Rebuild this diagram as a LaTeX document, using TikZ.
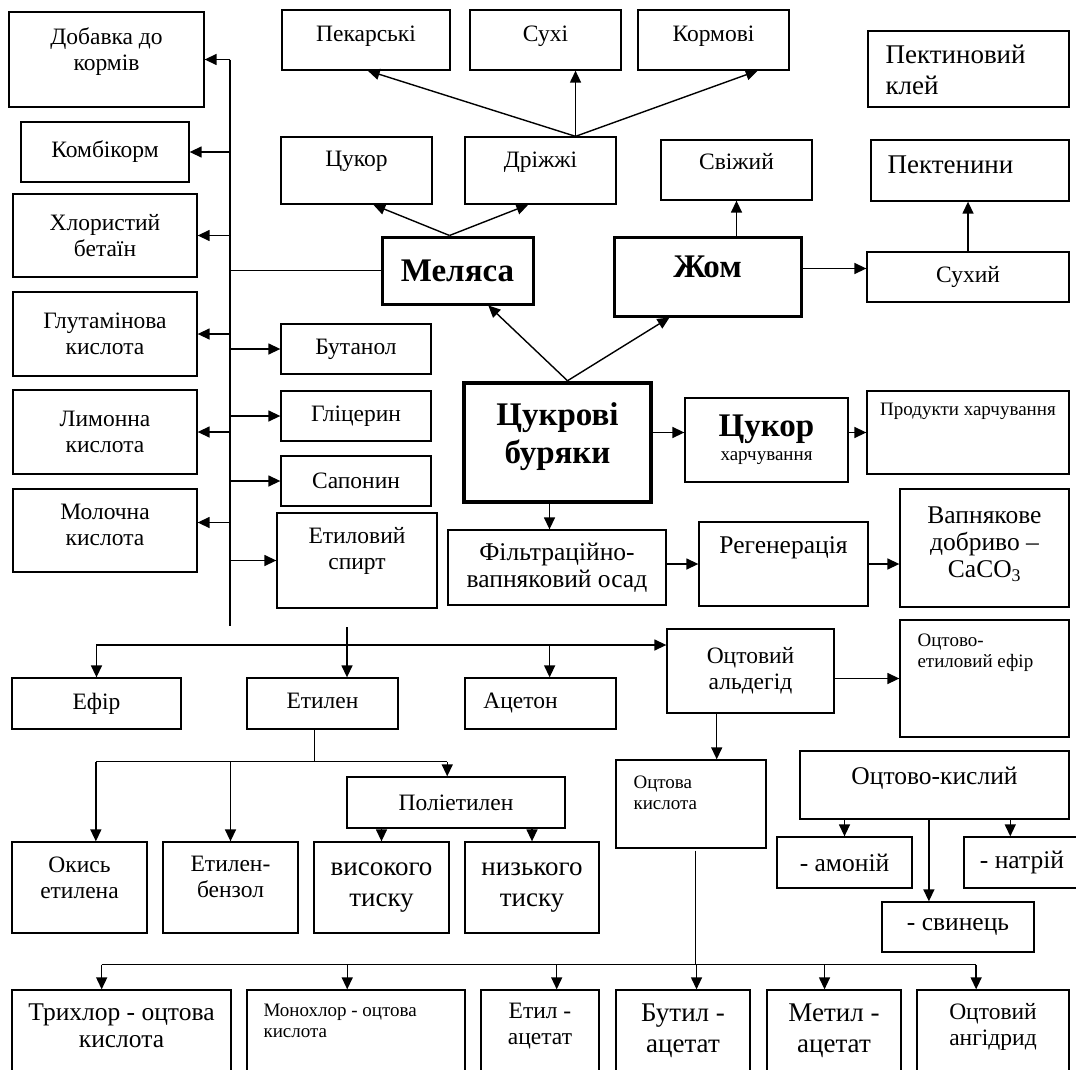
\documentclass[tikz,border=0pt]{standalone}
\usepackage{fontspec}
\setmainfont{Liberation Serif}
\usetikzlibrary{positioning, calc, arrows.meta}
\newcommand{\szN}{\fontsize{23.5}{26}\selectfont}
\newcommand{\szS}{\fontsize{19}{21}\selectfont}
\newcommand{\szM}{\fontsize{25.5}{27}\selectfont}
\newcommand{\szL}{\fontsize{27}{31}\selectfont}
\newcommand{\szB}{\fontsize{33}{38}\selectfont\bfseries}
\newcommand{\lift}[1]{\rule[-#1]{0pt}{1pt}}

\begin{document}
\begin{tikzpicture}[
		x=1pt, y=-1pt,
		cell/.style n args={4}{at={({(#1+#3)/2},{(#2+#4)/2})}, minimum width={(#3-#1)*1pt}, minimum height={(#4-#2)*1pt}},
		box/.style={draw, line width=1.3pt, inner sep=0pt, align=center, font=\szN},
		main/.style={box, line width=3pt, font=\szB},
		toptext/.style={anchor=north, align=center, inner sep=0pt, font=\szN},
		lefttext/.style={anchor=north west, align=left, inner sep=0pt, font=\szS},
		arrow/.style={-{Triangle[length=12pt, width=11pt]}, line width=1.4pt},
		link/.style={line width=1.2pt}
		]
		\useasboundingbox (0,0) rectangle (1076,1070);
		% Left column
		\node[box, cell={9}{12}{204}{107}, label={[toptext, yshift=-16pt]north:{Добавка до\\кормів}}] (dob) {};
		\node[box, cell={21}{122}{189}{182}] (komb) {Комбікорм};
		\node[box, cell={13}{194}{197}{277}] (khlor) {Хлористий\\бетаїн};
		\node[box, cell={13}{292}{197}{376}] (glut) {Глутамінова\\кислота};
		\node[box, cell={13}{390}{197}{474}] (lymon) {Лимонна\\кислота};
		\node[box, cell={13}{489}{197}{572}] (moloch) {Молочна\\кислота\lift{12pt}};
		\node[box, cell={281}{324}{431}{374}] (butanol) {Бутанол};
		\node[box, cell={281}{391}{431}{441}] (glits) {Гліцерин};
		\node[box, cell={281}{456}{431}{506}] (sapon) {Сапонин};
		\node[box, cell={277}{513}{437}{608}, label={[toptext, yshift=-15pt]north:{Етиловий\\спирт}}] (spirt) {};
		% Top row
		\node[box, cell={282}{10}{450}{70}, label={[toptext, yshift=-16pt]north:Пекарські}] (pekar) {};
		\node[box, cell={470}{10}{621}{70}, label={[toptext, yshift=-16pt]north:Сухі}] (sukhi) {};
		\node[box, cell={638}{10}{789}{70}, label={[toptext, yshift=-16pt]north:Кормові}] (korm) {};
		\node[box, cell={281}{137}{432}{204}, label={[toptext, yshift=-15pt]north:Цукор}] (tsukor) {};
		\node[box, cell={465}{137}{616}{204}, label={[toptext, yshift=-15pt]north:Дріжжі}] (drizh) {};
		\node[box, cell={868}{31}{1069}{107}, label={[lefttext, font=\szL, xshift=18pt, yshift=-14pt]north west:{Пектиновий\\клей}}] (pklei) {};
		\node[box, cell={661}{140}{812}{200}, label={[toptext, yshift=-14pt]north:Свіжий}] (svizh) {};
		\node[box, cell={871}{140}{1069}{201}, label={[lefttext, font=\szL, xshift=17pt, yshift=-16pt]north west:Пектенини}] (pekten) {};
		\node[main, cell={382}{237}{533}{304}] (melyasa) {Меляса};
		\node[main, cell={614}{237}{801}{316}, label={[toptext, font=\szB, yshift=-20pt]north:Жом}] (zhom) {};
		\node[box, cell={867}{252}{1069}{302}] (sukhyi) {Сухий};
		% Centre
		\node[main, line width=4.5pt, cell={464}{383}{651}{502}] (tsbur) {Цукрові\\буряки\lift{19pt}};
		\node[box, cell={685}{398}{848}{482}] (tsukhar) {{\szB Цукор}\\[-2pt]{\szS харчування}};
		\node[box, cell={867}{391}{1069}{474}, label={[toptext, font=\szS, yshift=-13pt]north:Продукти харчування}] (produkt) {};
		\node[box, font=\szM, cell={448}{530}{666}{605}] (filtr) {Фільтраційно-\\вапняковий осад};
		\node[box, cell={699}{522}{868}{606}, label={[toptext, font=\szM, yshift=-15pt]north:Регенерація}] (regen) {};
		\node[box, font=\szM, cell={900}{489}{1069}{607}] (vapn) {Вапнякове\\добриво –\\CaCO\textsubscript{3}\lift{12pt}};
		\node[box, cell={900}{620}{1069}{737}, label={[lefttext, xshift=18pt, yshift=-14pt]north west:{Оцтово-\\етиловий ефір}}] (otsefir) {};
		% Ethanol products
		\node[box, cell={12}{678}{181}{729}] (efir) {Ефір};
		\node[box, cell={247}{678}{398}{729}] (etylen) {Етилен\vphantom{р}};
		\node[box, cell={465}{678}{616}{729}] (aceton) {Ацетон\hspace*{40pt}};
		\node[box, cell={667}{629}{834}{713}] (otsald) {Оцтовий\\альдегід};
		\node[box, cell={616}{760}{766}{848}, label={[lefttext, xshift=18pt, yshift=-16pt]north west:{Оцтова\\кислота}}] (otskysl) {};
		\node[box, cell={12}{842}{147}{933}, label={[toptext, yshift=-15pt]north:{Окись\\етилена}}] (okys) {};
		\node[box, cell={163}{842}{298}{933}, label={[toptext, yshift=-15pt]north:{Етилен-\\бензол}}] (etbenz) {};
		\node[box, cell={347}{777}{565}{828}] (poliet) {Поліетилен};
		\node[box, font=\szL, cell={314}{842}{449}{933}] (vysok) {високого\\тиску};
		\node[box, font=\szL, cell={465}{842}{599}{933}] (nyzk) {низького\\тиску};
		\node[box, cell={800}{751}{1069}{819}, label={[toptext, font=\szM, yshift=-16pt]north:Оцтово-кислий}] (okysl) {};
		\node[box, font=\szM, cell={777}{837}{912}{888}] (amon) {- амоній};
		\node[box, font=\szM, cell={964}{837}{1080}{888}] (natr) {- натрій};
		\node[box, font=\szM, cell={882}{902}{1034}{952}] (svyn) {- свинець};
		% Bottom row
		\node[box, cell={12}{990}{231}{1080}, label={[toptext, font=\szM, yshift=-14pt]north:{Трихлор - оцтова\\кислота}}] (trykh) {};
		\node[box, cell={247}{990}{465}{1080}, label={[lefttext, xshift=17pt, yshift=-14pt]north west:{Монохлор - оцтова\\кислота}}] (monokh) {};
		\node[box, cell={481}{990}{599}{1080}, label={[toptext, yshift=-14pt]north:{Етил -\\ацетат}}] (etyl) {};
		\node[box, cell={616}{990}{750}{1080}, label={[toptext, font=\szL, yshift=-14pt]north:{Бутил -\\ацетат}}] (butyl) {};
		\node[box, cell={767}{990}{901}{1080}, label={[toptext, font=\szL, yshift=-14pt]north:{Метил -\\ацетат}}] (metyl) {};
		\node[box, cell={917}{990}{1069}{1080}, label={[toptext, yshift=-14pt]north:{Оцтовий\\ангідрид}}] (otsang) {};

		% Molasses trunk
		\coordinate (trT) at (230,60);
		\coordinate (trB) at (230,626);
		\draw[link] (trT) -- (trB);
		\draw[link, line width=0.8pt] (melyasa.west) -- (melyasa.west -| trB);
		\foreach \n in {dob, komb, khlor, glut, lymon}
			\draw[arrow] (trB |- \n.east) -- (\n.east);
		\coordinate (molA) at ([yshift=8pt]moloch.east);
		\draw[arrow] (trB |- molA) -- (molA);
		\foreach \n in {butanol, glits, sapon, spirt}
			\draw[arrow] (trB |- \n.west) -- (\n.west);

		% Molasses, yeast, pulp
		\draw[arrow] ([xshift=-8pt]melyasa.north) -- ($(tsukor.south west)!0.61!(tsukor.south east)$);
		\draw[arrow] ([xshift=-8pt]melyasa.north) -- ($(drizh.south west)!0.42!(drizh.south east)$);
		\coordinate (fan) at ($(drizh.north west)!0.73!(drizh.north east)$);
		\draw[arrow] (fan) -- ($(pekar.south west)!0.51!(pekar.south east)$);
		\draw[arrow] (fan) -- (fan |- sukhi.south);
		\draw[arrow] (fan) -- ($(korm.south west)!0.79!(korm.south east)$);
		\draw[arrow] (svizh.south |- zhom.north) -- (svizh.south);
		\coordinate (zhA) at ([yshift=8pt]zhom.east);
		\draw[arrow] (zhA) -- (zhA -| sukhyi.west);
		\draw[arrow] (sukhyi.north) -- (sukhyi.north |- pekten.south);

		% Sugar beet
		\coordinate (burT) at ([xshift=10pt]tsbur.north);
		\draw[arrow] (burT) -- ($(melyasa.south west)!0.7!(melyasa.south east)$);
		\draw[arrow] (burT) -- ($(zhom.south west)!0.3!(zhom.south east)$);
		\coordinate (burE) at ([yshift=10pt]tsbur.east);
		\draw[arrow] (burE) -- (burE -| tsukhar.west);
		\draw[arrow] (tsukhar.east |- produkt.west) -- (produkt.west);
		\coordinate (burS) at ([xshift=-8pt]tsbur.south);
		\draw[arrow] (burS) -- (burS |- filtr.north);
		\draw[arrow] (filtr.east |- regen.west) -- (regen.west);
		\draw[arrow] (regen.east) -- (regen.east -| vapn.west);

		% Ethanol
		\coordinate (spT) at (347,627);
		\coordinate (bus) at (347,645);
		\draw[arrow] (spT) -- (spT |- etylen.north);
		\draw[arrow] (bus) -| (efir.north);
		\draw[arrow] (bus) -- (bus -| otsald.west);
		\coordinate (acA) at ($(aceton.north west)!0.56!(aceton.north east)$);
		\draw[arrow] (acA |- bus) -- (acA);
		\draw[arrow] (otsald.east |- otsefir.west) -- (otsefir.west);
		\coordinate (alS) at ($(otskysl.north west)!0.67!(otskysl.north east)$);
		\draw[arrow] (alS |- otsald.south) -- (alS);

		% Ethylene
		\coordinate (etS) at ([xshift=-8.5pt]etylen.south);
		\coordinate (bus3) at ([yshift=-32pt]etS);
		\draw[link, line width=1pt] (etS) -- (bus3);
		\foreach \n/\f in {okys/0.62, etbenz/0.5, poliet/0.46} {
			\coordinate (tip-\n) at ($(\n.north west)!\f!(\n.north east)$);
			\draw[arrow] (tip-\n |- bus3) -- (tip-\n);
		}
		\draw[link] (tip-okys |- bus3) -- (tip-poliet |- bus3);
		\draw[arrow] (vysok.north |- poliet.south) -- (vysok.north);
		\draw[arrow] (nyzk.north |- poliet.south) -- (nyzk.north);

		% Acetates
		\draw[arrow] (amon.north |- okysl.south) -- (amon.north);
		\coordinate (naA) at ($(natr.north west)!0.4!(natr.north east)$);
		\draw[arrow] (naA |- okysl.south) -- (naA);
		\coordinate (svA) at ($(svyn.north west)!0.31!(svyn.north east)$);
		\draw[arrow] (svA |- okysl.south) -- (svA);

		% Acetic acid
		\coordinate (kS) at ($(otskysl.south west)!0.53!(otskysl.south east)$);
		\coordinate (bus2) at ([yshift=-116pt]kS);
		\draw[link, line width=0.9pt] ([yshift=-2pt]kS) -- (bus2);
		\foreach \n/\f in {trykh/0.41, monokh/0.46, etyl/0.64, butyl/0.6, metyl/0.43, otsang/0.39} {
			\coordinate (tip-\n) at ($(\n.north west)!\f!(\n.north east)$);
			\draw[arrow] (tip-\n |- bus2) -- (tip-\n);
		}
		\draw[link] (tip-trykh |- bus2) -- (tip-otsang |- bus2);
	\end{tikzpicture}
\end{document}
